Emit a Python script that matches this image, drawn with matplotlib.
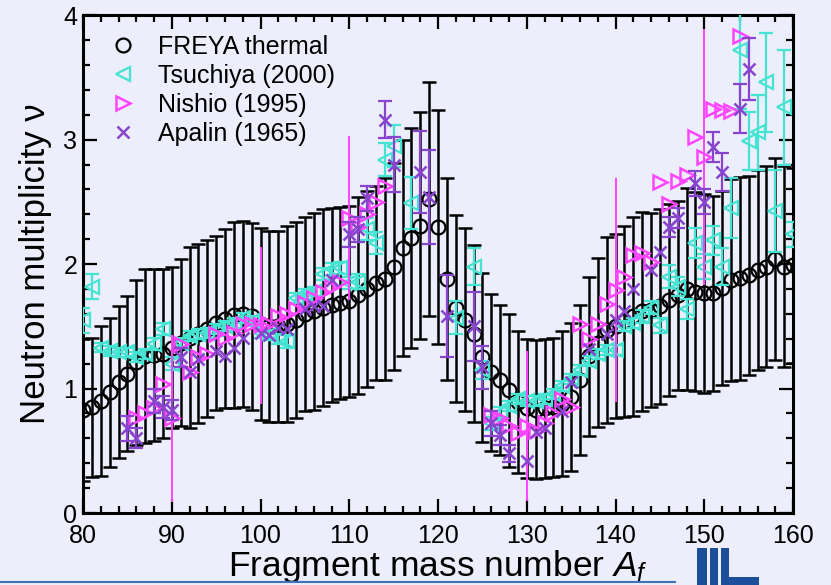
import numpy as np
import matplotlib
matplotlib.use("Agg")
import matplotlib.pyplot as plt
from matplotlib.lines import Line2D
from matplotlib.patches import Rectangle
from matplotlib.ticker import MultipleLocator

# ---------------- data ----------------
# FREYA thermal calculation: mean neutron multiplicity and spread per fragment mass
freya_A = np.arange(80, 161)
freya_nu = [0.83, 0.85, 0.90, 0.97, 1.05, 1.12, 1.21, 1.26, 1.27, 1.28,
            1.33, 1.37, 1.41, 1.44, 1.48, 1.53, 1.56, 1.59, 1.60, 1.58,
            1.52, 1.50, 1.50, 1.52, 1.55, 1.60, 1.62, 1.65, 1.67, 1.69,
            1.70, 1.75, 1.80, 1.85, 1.88, 1.98, 2.13, 2.21, 2.31, 2.52,
            2.30, 1.88, 1.645, 1.555, 1.44, 1.25, 1.13, 1.07, 0.985, 0.89,
            0.84, 0.83, 0.84, 0.85, 0.88, 0.93, 1.07, 1.26, 1.37, 1.47,
            1.50, 1.54, 1.58, 1.62, 1.63, 1.66, 1.71, 1.75, 1.80, 1.78,
            1.765, 1.765, 1.81, 1.87, 1.885, 1.91, 1.955, 1.98, 2.04, 1.98,
            1.99]
freya_err = [0.57, 0.56, 0.60, 0.60, 0.61, 0.62, 0.66, 0.70, 0.69, 0.68,
             0.65, 0.67, 0.73, 0.72, 0.71, 0.70, 0.72, 0.75, 0.75, 0.75,
             0.77, 0.77, 0.77, 0.79, 0.79, 0.78, 0.79, 0.79, 0.78, 0.77,
             0.77, 0.79, 0.79, 0.78, 0.81, 0.83, 0.87, 0.88, 0.91, 0.94,
             0.94, 0.81, 0.75, 0.735, 0.71, 0.68, 0.63, 0.60, 0.615, 0.57,
             0.555, 0.56, 0.56, 0.56, 0.58, 0.595, 0.60, 0.64, 0.68, 0.75,
             0.74, 0.77, 0.80, 0.80, 0.78, 0.78, 0.77, 0.76, 0.81, 0.80,
             0.80, 0.785, 0.78, 0.81, 0.815, 0.80, 0.805, 0.81, 0.81, 0.81,
             0.785]

# Tsuchiya (2000)
tsu_A = [80, 81, 82, 83, 84, 85, 86, 87, 88, 89, 90, 91, 92, 93, 94, 95, 96, 97,
         98, 99, 100, 101, 102, 103, 104, 105, 106, 107, 108, 109, 110, 111,
         112, 113, 114, 115, 117, 122, 124, 125, 126, 127, 128, 129, 130, 131,
         132, 133, 134, 135, 136, 137, 138, 139, 140, 141, 142, 143, 144, 145,
         146, 147, 148, 149, 150, 151, 152, 153, 154, 155, 156, 157, 158, 159,
         160]
tsu_nu = [1.55, 1.82, 1.33, 1.30, 1.29, 1.29, 1.25, 1.28, 1.36, 1.48, 1.20,
          1.37, 1.42, 1.44, 1.45, 1.48, 1.50, 1.53, 1.57, 1.54, 1.45, 1.43,
          1.40, 1.38, 1.73, 1.76, 1.78, 1.92, 1.96, 1.97, 1.85, 1.86, 2.28,
          2.17, 2.84, 2.95, 2.49, 1.57, 1.98, 1.15, 0.72, 0.80, 0.86, 0.92,
          0.90, 0.90, 0.92, 0.96, 1.02, 1.08, 1.15, 1.22, 1.28, 1.31, 1.31,
          1.50, 1.53, 1.58, 1.65, 1.51, 1.90, 1.82, 1.64, 2.17, 1.98, 2.19,
          1.98, 2.45, 3.72, 2.99, 3.06, 3.46, 2.43, 3.26, 2.24]
tsu_err = [0.10, 0.10, 0.04, 0.04, 0.04, 0.04, 0.04, 0.04, 0.05, 0.05, 0.05,
           0.04, 0.04, 0.04, 0.04, 0.04, 0.04, 0.04, 0.04, 0.04, 0.04, 0.04,
           0.04, 0.05, 0.04, 0.04, 0.04, 0.05, 0.05, 0.05, 0.05, 0.06, 0.09,
           0.09, 0.13, 0.17, 0.21, 0.13, 0.15, 0.07, 0.05, 0.05, 0.04, 0.04,
           0.04, 0.04, 0.04, 0.04, 0.04, 0.04, 0.04, 0.04, 0.04, 0.04, 0.04,
           0.04, 0.04, 0.05, 0.05, 0.06, 0.09, 0.08, 0.08, 0.12, 0.10, 0.12,
           0.15, 0.24, 0.47, 0.23, 0.30, 0.40, 0.33, 0.46, 0.10]

# Nishio (1995)
nis_A = [86, 87, 88, 89, 90, 91, 92, 93, 94, 95, 96, 97, 98, 99, 100, 101, 102,
         103, 104, 105, 106, 107, 108, 109, 110, 111, 112, 113, 114, 126, 127,
         128, 129, 130, 131, 132, 133, 134, 135, 136, 137, 138, 139, 140, 141,
         142, 143, 144, 145, 146, 147, 148, 149, 150, 151, 152, 153, 154]
nis_nu = [0.76, 0.80, 0.84, 1.04, 0.76, 1.36, 1.13, 1.25, 1.28, 1.44, 1.41,
          1.45, 1.52, 1.52, 1.51, 1.52, 1.58, 1.60, 1.64, 1.69, 1.73, 1.78,
          1.82, 1.86, 2.37, 2.30, 2.40, 2.50, 2.63, 0.79, 0.76, 0.70, 0.64,
          0.70, 0.66, 0.72, 0.80, 0.92, 0.85, 1.52, 1.40, 1.52, 1.68, 1.79,
          1.90, 2.07, 2.09, 2.02, 2.66, 2.48, 2.67, 2.72, 3.02, 2.86, 3.25,
          3.24, 3.23, 3.83]
# representative uncertainties quoted every ten mass units
nis_err_A = [90, 100, 110, 130, 140, 150]
nis_err = [0.67, 0.63, 0.66, 0.60, 0.90, 1.03]

# Apalin (1965)
apa_A = [85, 86, 88, 89, 90, 91, 92, 93, 95, 96, 97, 98, 100, 101, 102, 103,
         105, 106, 107, 108, 110, 111, 112, 114, 115, 118, 119, 121, 124, 125,
         126, 127, 128, 130, 131, 132, 134, 135, 137, 139, 140, 141, 142, 144,
         145, 146, 147, 149, 150, 151, 152, 154, 155]
apa_nu = [0.68, 0.60, 0.90, 0.85, 0.83, 1.25, 1.13, 1.24, 1.30, 1.26, 1.33,
          1.41, 1.45, 1.43, 1.49, 1.48, 1.64, 1.66, 1.66, 1.87, 2.24, 2.28,
          2.53, 3.16, 2.80, 2.74, 2.54, 1.58, 1.50, 1.17, 0.72, 0.63, 0.48,
          0.42, 0.65, 0.68, 0.82, 1.05, 1.32, 1.44, 1.55, 1.62, 1.80, 1.95,
          2.10, 2.30, 2.37, 2.65, 2.50, 2.94, 2.74, 3.25, 3.57]
apa_err = [0.10, 0.08, 0.10, 0.09, 0.08, 0.08, 0, 0, 0, 0, 0, 0, 0, 0, 0, 0,
           0, 0, 0, 0, 0.10, 0.10, 0.10, 0.15, 0.22, 0.33, 0.38, 0.33, 0.28,
           0.17, 0.10, 0.08, 0.07, 0, 0, 0, 0, 0, 0, 0, 0, 0, 0, 0, 0, 0.08,
           0.08, 0.10, 0.10, 0.12, 0.15, 0.20, 0.25]

series_labels = ["FREYA thermal", "Tsuchiya (2000)", "Nishio (1995)", "Apalin (1965)"]

# ---------------- style ----------------
BG = "#ECEEFB"
C_TSU = "#45E3D2"
C_NIS = "#FF45FF"
C_APA = "#8844CC"

plt.rcParams["font.family"] = ["Liberation Sans", "DejaVu Sans"]
plt.rcParams["mathtext.fontset"] = "custom"
plt.rcParams["mathtext.rm"] = "Liberation Sans"
plt.rcParams["mathtext.it"] = "Liberation Sans:italic"

fig = plt.figure(figsize=(8.31, 5.85), dpi=100, facecolor=BG)
ax = fig.add_axes([0.0999, 0.123, 0.8544, 0.851])
ax.set_facecolor(BG)

# FREYA calculation
ax.errorbar(freya_A, freya_nu, yerr=freya_err, fmt="none", ecolor="black",
            elinewidth=1.8, capsize=5, capthick=1.8, zorder=2)
ax.plot(freya_A, freya_nu, "o", ms=10, mfc="none", mec="black", mew=1.6, zorder=3)

# Tsuchiya
ax.errorbar(tsu_A, tsu_nu, yerr=tsu_err, fmt="none", ecolor=C_TSU,
            elinewidth=1.6, capsize=5, capthick=1.6, zorder=4)
ax.plot(tsu_A, tsu_nu, "<", ms=10, mfc="none", mec=C_TSU, mew=1.6, zorder=4)

# Nishio
ax.errorbar(nis_err_A, [nis_nu[nis_A.index(a)] for a in nis_err_A], yerr=nis_err,
            fmt="none", ecolor=C_NIS, elinewidth=1.4, capsize=0, zorder=5)
ax.plot(nis_A, nis_nu, ">", ms=10, mfc="none", mec=C_NIS, mew=1.8, zorder=5)

# Apalin
apa_A_arr = np.array(apa_A)
apa_nu_arr = np.array(apa_nu)
apa_err_arr = np.array(apa_err)
has_err = apa_err_arr > 0
ax.errorbar(apa_A_arr[has_err], apa_nu_arr[has_err], yerr=apa_err_arr[has_err],
            fmt="none", ecolor=C_APA, elinewidth=1.6, capsize=5, capthick=1.6,
            zorder=6)
ax.plot(apa_A, apa_nu, "x", ms=8, mec=C_APA, mew=1.8, zorder=6)

# axes
ax.set_xlim(80, 160)
ax.set_ylim(0, 4)
ax.xaxis.set_major_locator(MultipleLocator(10))
ax.xaxis.set_minor_locator(MultipleLocator(2))
ax.yaxis.set_major_locator(MultipleLocator(1))
ax.yaxis.set_minor_locator(MultipleLocator(0.2))
ax.tick_params(which="both", direction="in", top=True, right=True,
               labelsize=18, width=1.6)
ax.tick_params(axis="x", which="major", pad=8)
ax.tick_params(axis="y", which="major", pad=4)
ax.tick_params(which="major", length=10)
ax.tick_params(which="minor", length=5)
for s in ax.spines.values():
    s.set_linewidth(2.2)

ax.set_xlabel("Fragment mass number $A_f$", fontsize=25.5, labelpad=0)
ax.set_ylabel("Neutron multiplicity \u03bd", fontsize=25, labelpad=8)

handles = [
    Line2D([], [], ls="none", marker="o", ms=10, mfc="none", mec="black", mew=1.6),
    Line2D([], [], ls="none", marker="<", ms=10, mfc="none", mec=C_TSU, mew=1.6),
    Line2D([], [], ls="none", marker=">", ms=10, mfc="none", mec=C_NIS, mew=1.8),
    Line2D([], [], ls="none", marker="x", ms=8, mec=C_APA, mew=1.8),
]
ax.legend(handles, series_labels, loc="upper left", frameon=False, fontsize=18,
          handlelength=1.0, handletextpad=0.9, labelspacing=0.2,
          borderaxespad=0.5, bbox_to_anchor=(0.007, 1.006))

# footer rule and logo
fig.add_artist(Line2D([0.0, 0.812], [0.005, 0.005], transform=fig.transFigure,
                      color="#3F73B8", lw=1.5))
logo_c = "#1C4E9A"
for x0, w in [(697, 10), (710, 8), (721, 8)]:
    fig.add_artist(Rectangle((x0 / 831, 0.0), w / 831, 37 / 585,
                             transform=fig.transFigure, color=logo_c, lw=0))
fig.add_artist(Rectangle((729 / 831, 0.0), 30 / 831, 8 / 585,
                         transform=fig.transFigure, color=logo_c, lw=0))

fig.savefig("out.png", dpi=100, facecolor=BG)
